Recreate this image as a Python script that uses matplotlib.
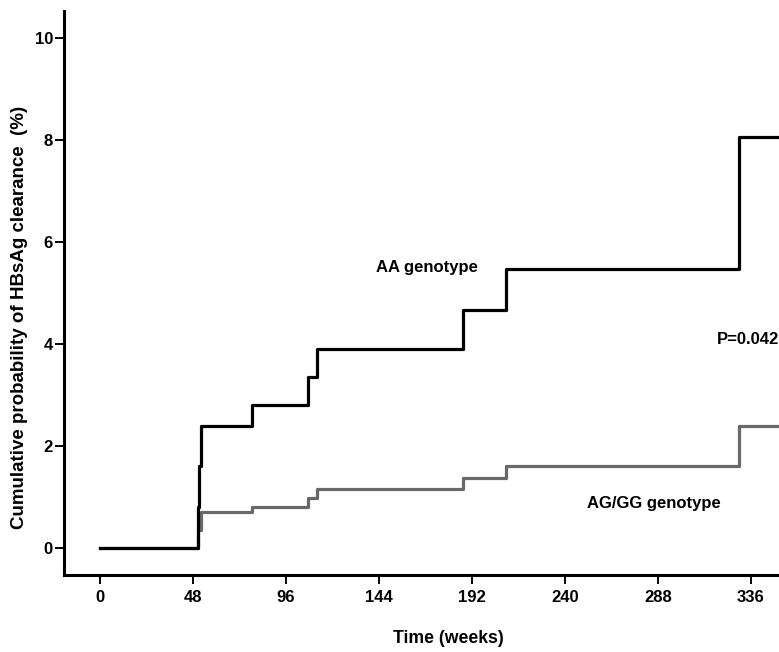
import matplotlib
matplotlib.use("Agg")
import matplotlib.pyplot as plt

plt.rcParams['font.family'] = ['Liberation Sans', 'DejaVu Sans']
plt.rcParams['font.weight'] = 'bold'

# Kaplan-Meier style cumulative curves (weeks, %)
aa_weeks = [0, 50.5, 51.2, 52, 78.5, 107.5, 112, 187.5, 209.5, 330, 370]
aa_prob = [0, 0.8, 1.6, 2.4, 2.8, 3.35, 3.9, 4.67, 5.47, 8.06, 8.06]
ag_weeks = [0, 50.5, 52, 78.5, 107.5, 112, 187.5, 209.5, 330, 370]
ag_prob = [0, 0.35, 0.71, 0.80, 0.98, 1.16, 1.37, 1.61, 2.39, 2.39]

xticks = [0, 48, 96, 144, 192, 240, 288, 336]
yticks = [0, 2, 4, 6, 8, 10]

fig = plt.figure(figsize=(7.79, 6.52), dpi=100)
ax = fig.add_axes([0.0822, 0.1181, 0.9178, 0.8650])

ax.plot(ag_weeks, ag_prob, drawstyle='steps-post', color='#696969', lw=2.3)
ax.plot(aa_weeks, aa_prob, drawstyle='steps-post', color='black', lw=2.3)

ax.set_xlim(-18.6, 350.5)
ax.set_ylim(-0.53, 10.53)
ax.set_xticks(xticks)
ax.set_yticks(yticks)

for s in ['top', 'right']:
    ax.spines[s].set_visible(False)
for s in ['left', 'bottom']:
    ax.spines[s].set_linewidth(2.2)
ax.tick_params(width=1.4, length=6.5, labelsize=12)
ax.tick_params(axis='x', pad=4)
ax.tick_params(axis='y', pad=1.5)
for lab in ax.get_xticklabels() + ax.get_yticklabels():
    lab.set_fontweight('bold')

ax.set_xlabel('Time (weeks)', fontsize=12.7, fontweight='bold')
ax.set_ylabel('Cumulative probability of HBsAg clearance  (%)', fontsize=13.5, fontweight='bold')
ax.xaxis.set_label_coords(0.537, -0.097)
ax.yaxis.set_label_coords(-0.050, 0.456)

ax.text(169, 5.5, 'AA genotype', fontsize=12, fontweight='bold', ha='center', va='center')
ax.text(350.5, 4.08, 'P=0.042', fontsize=12, fontweight='bold', ha='right', va='center')
ax.text(286, 0.88, 'AG/GG genotype', fontsize=12, fontweight='bold', ha='center', va='center')

fig.savefig('out.png', dpi=100)
